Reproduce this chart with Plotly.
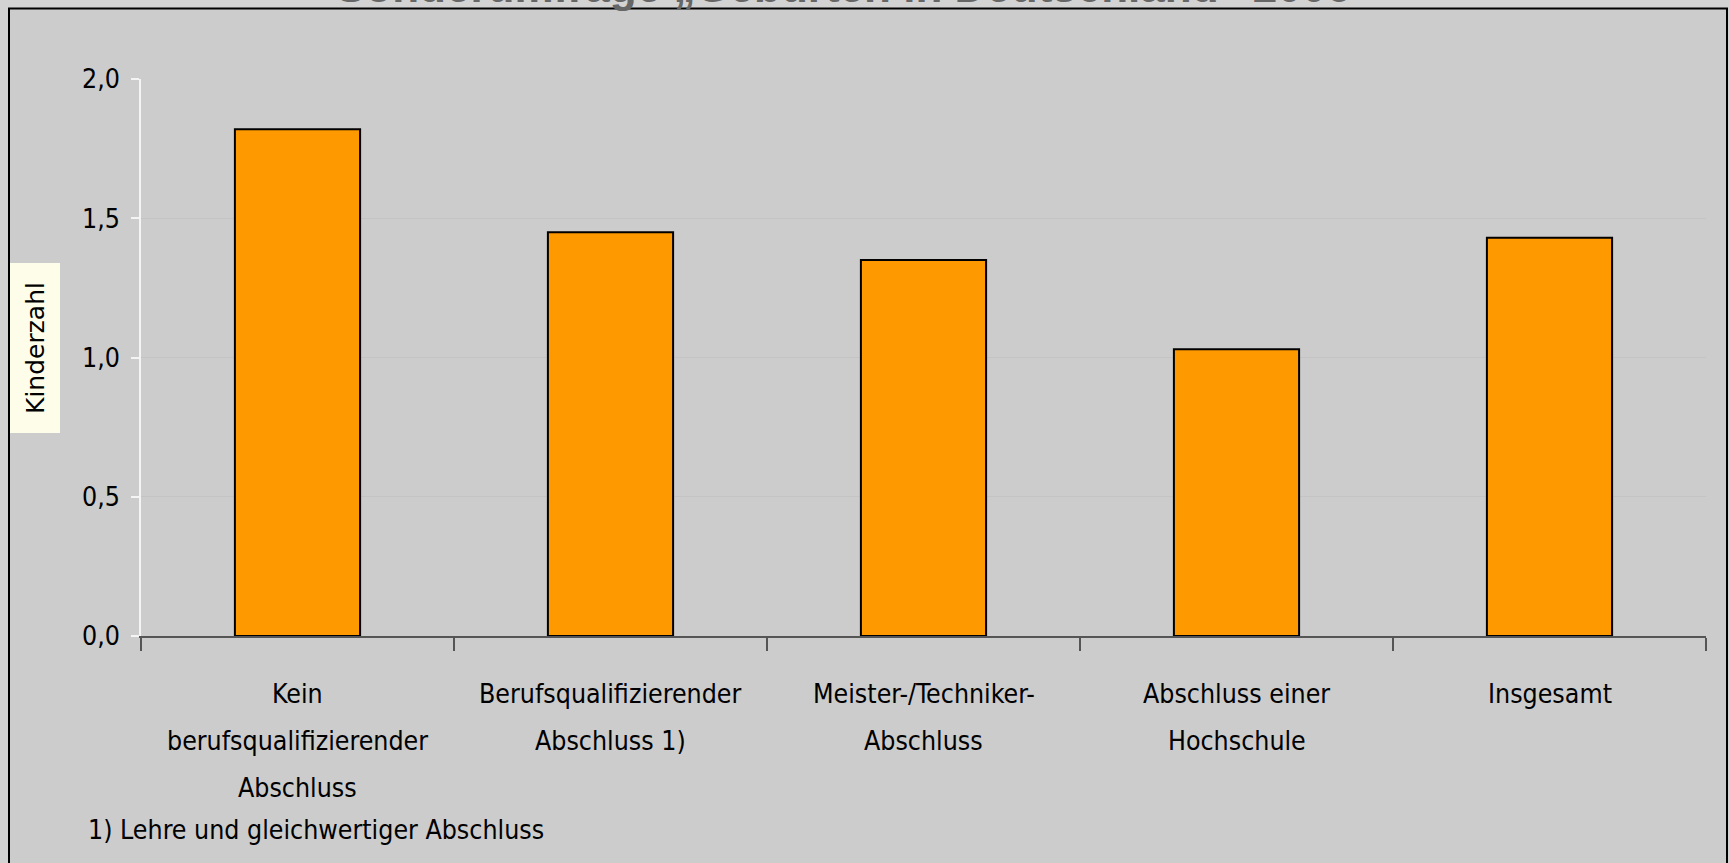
import plotly.graph_objects as go

categories = ["Kein", "Berufsqualifizierender", "Meister-/Techniker-", "Abschluss einer", "Insgesamt"]
category_labels = [
    ["Kein", "berufsqualifizierender", "Abschluss"],
    ["Berufsqualifizierender", "Abschluss 1)"],
    ["Meister-/Techniker-", "Abschluss"],
    ["Abschluss einer", "Hochschule"],
    ["Insgesamt"],
]
kinderzahl = [1.82, 1.45, 1.35, 1.03, 1.43]
y_ticks = [0.0, 0.5, 1.0, 1.5, 2.0]

title_text = "Sonderumfrage „Geburten in Deutschland“ 2006"
y_title = "Kinderzahl"
footnote = "1) Lehre und gleichwertiger Abschluss"

FONT = "Liberation Sans Narrow, DejaVu Sans Condensed, Arial Narrow, sans-serif"
FS = 26.5

W, H = 1729, 863
L, R, T, B = 141, 23, 79, 227
PW = W - L - R
PH = H - T - B

def px_x(px):
    return (px - L) / PW

def px_y(py):
    return (H - B - py) / PH

fig = go.Figure()
fig.add_trace(go.Bar(
    x=categories,
    y=kinderzahl,
    marker=dict(color="#ff9900", line=dict(color="#000000", width=2)),
    hoverinfo="y",
))

annotations = []
for cat, lines in zip(categories, category_labels):
    for k, line in enumerate(lines):
        annotations.append(dict(
            x=cat, xref="x", y=0, yref="paper",
            text=line, showarrow=False,
            xanchor="center", yanchor="middle",
            yshift=-(57 + 47 * k),
            font=dict(family=FONT, size=FS, color="#000000"),
        ))

annotations.append(dict(
    x=px_x(86), xref="paper", y=0, yref="paper",
    text=footnote, showarrow=False,
    xanchor="left", yanchor="middle", yshift=-193,
    font=dict(family=FONT, size=FS, color="#000000"),
))

annotations.append(dict(
    x=px_x(35), xref="paper", y=px_y(348), yref="paper",
    text=y_title, showarrow=False, textangle=-90,
    xanchor="center", yanchor="middle",
    font=dict(family="DejaVu Sans, sans-serif", size=25, color="#000000"),
))

annotations.append(dict(
    x=px_x(843), xref="paper", y=1, yref="paper",
    text="<b>" + title_text + "</b>", showarrow=False,
    xanchor="center", yanchor="bottom", yshift=T - 13,
    font=dict(family="Liberation Sans, Arial, sans-serif", size=44, color="#666666"),
))

fig.update_layout(
    width=W, height=H,
    margin=dict(l=L, r=R, t=T, b=B, pad=0),
    paper_bgcolor="#d3d3d3",
    plot_bgcolor="rgba(0,0,0,0)",
    separators=",.",
    bargap=0.6,
    showlegend=False,
    annotations=annotations,
    shapes=[
        dict(
            type="rect", xref="paper", yref="paper",
            x0=px_x(9), x1=px_x(1727), y0=px_y(880), y1=px_y(8.5),
            fillcolor="#cccccc", line=dict(color="#000000", width=2),
            layer="below",
        ),
        dict(
            type="rect", xref="paper", yref="paper",
            x0=px_x(10), x1=px_x(60), y0=px_y(433), y1=px_y(263),
            fillcolor="#fdfde9", line=dict(width=0),
            layer="below",
        ),
    ],
)

fig.update_xaxes(
    showticklabels=False,
    ticks="outside", tickson="boundaries", ticklen=13, tickwidth=1.5, tickcolor="#555555",
    showline=True, linecolor="#555555", linewidth=1.5,
    showgrid=False, zeroline=False,
)
fig.update_yaxes(
    range=[0, 2], tickvals=y_ticks, tickformat=".1f",
    ticks="outside", ticklen=8, tickwidth=1.5, tickcolor="#f4f4f4",
    ticklabelstandoff=6,
    showline=True, linecolor="#f4f4f4", linewidth=1.5,
    showgrid=True, gridcolor="#c4c4c4", gridwidth=1,
    zeroline=False,
    tickfont=dict(family=FONT, size=FS, color="#000000"),
)

fig.write_html(
    "out.html",
    config={"displayModeBar": False},
    post_script="document.body.style.margin='0';document.body.style.overflow='hidden';",
)
